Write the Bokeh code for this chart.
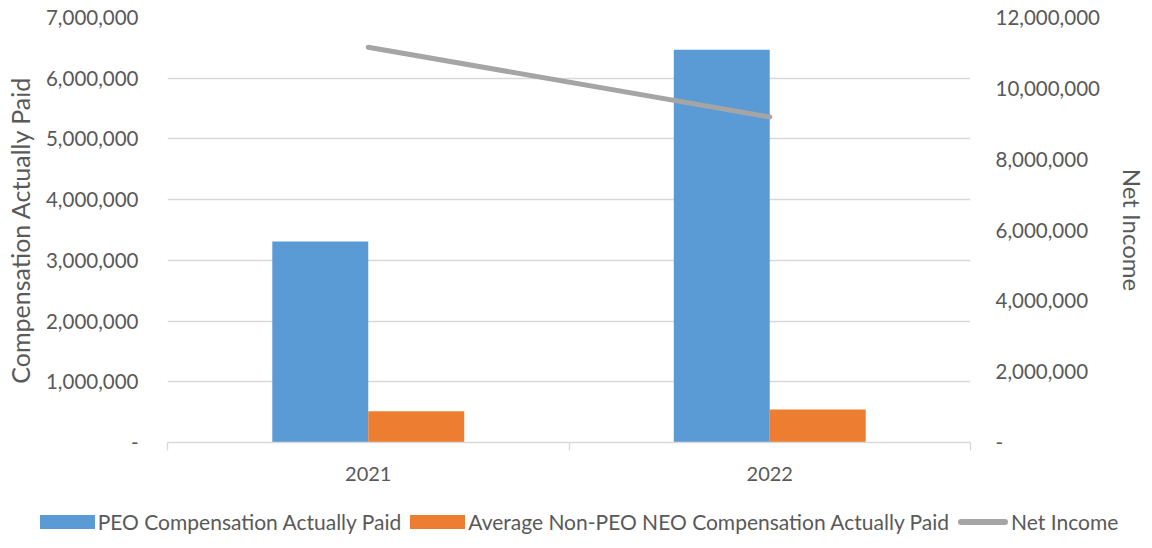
from bokeh.plotting import figure
from bokeh.layouts import column
from bokeh.models import (Range1d, LinearAxis, FixedTicker, NumeralTickFormatter, Div)
from bokeh.embed import file_html
from bokeh.resources import INLINE

years = ["2021", "2022"]
peo_cap = [3310000, 6470000]
neo_cap = [516000, 544000]
net_income = [11160000, 9190000]
left_ticks = [0, 1000000, 2000000, 3000000, 4000000, 5000000, 6000000, 7000000]
right_ticks = [0, 2000000, 4000000, 6000000, 8000000, 10000000, 12000000]
series_names = ["PEO Compensation Actually Paid",
                "Average Non-PEO NEO Compensation Actually Paid",
                "Net Income"]

FONT = "Lato"
TXT = "#595959"
GRID = "#d9d9d9"
C_PEO = "#5b9bd5"
C_NEO = "#ed7d31"
C_NI = "#a5a5a5"

x_center = [i + 0.5 for i in range(len(years))]
bar_w = 0.239
x_peo = [x - bar_w / 2 for x in x_center]
x_neo = [x + bar_w / 2 for x in x_center]

p = figure(frame_width=803, frame_height=425, output_backend="svg", toolbar_location=None,
           x_range=Range1d(0, len(years)), y_range=Range1d(0, left_ticks[-1]),
           min_border_left=167, min_border_right=182, min_border_top=17,
           min_border_bottom=54)
p.outline_line_color = None
p.extra_y_ranges = {"ni": Range1d(0, right_ticks[-1])}

p.vbar(x=x_peo, top=peo_cap, width=bar_w, fill_color=C_PEO, line_color=None)
p.vbar(x=x_neo, top=neo_cap, width=bar_w, fill_color=C_NEO, line_color=None)
p.line(x=x_center, y=net_income, y_range_name="ni", line_color=C_NI,
       line_width=5, line_cap="round")

# grid
p.xgrid.grid_line_color = None
p.ygrid.ticker = FixedTicker(ticks=left_ticks)
p.ygrid.grid_line_color = GRID
p.ygrid.grid_line_width = 1.3
p.ygrid.level = "underlay"

# left axis
ya = p.yaxis[0]
ya.ticker = FixedTicker(ticks=left_ticks)
ya.formatter = NumeralTickFormatter(format="0,0")
ya.major_label_overrides = {0: "-"}
ya.axis_line_color = None
ya.major_tick_line_color = None
ya.minor_tick_line_color = None
ya.major_label_standoff = 23
ya.major_label_text_font = FONT
ya.major_label_text_font_size = "20.5px"
ya.major_label_text_color = TXT
ya.axis_label = "Compensation Actually Paid"
ya.axis_label_text_font = FONT
ya.axis_label_text_font_size = "25px"
ya.axis_label_text_font_style = "normal"
ya.axis_label_text_color = TXT
ya.axis_label_standoff = 8

# right axis
ra = LinearAxis(y_range_name="ni", ticker=FixedTicker(ticks=right_ticks),
                formatter=NumeralTickFormatter(format="0,0"))
ra.major_label_overrides = {0: "-"}
ra.axis_line_color = None
ra.major_tick_line_color = None
ra.minor_tick_line_color = None
ra.major_label_standoff = 19
ra.major_label_text_font = FONT
ra.major_label_text_font_size = "20.5px"
ra.major_label_text_color = TXT
ra.axis_label = "Net Income"
ra.axis_label_text_font = FONT
ra.axis_label_text_font_size = "24px"
ra.axis_label_text_font_style = "normal"
ra.axis_label_text_color = TXT
ra.axis_label_standoff = 15
p.add_layout(ra, "right")

# bottom axis
xa = p.xaxis[0]
xa.ticker = FixedTicker(ticks=x_center, minor_ticks=list(range(len(years) + 1)))
xa.major_label_overrides = {x: y for x, y in zip(x_center, years)}
xa.axis_line_color = GRID
xa.axis_line_width = 1.3
xa.major_tick_line_color = None
xa.major_tick_out = 0
xa.major_tick_in = 0
xa.minor_tick_line_color = GRID
xa.minor_tick_line_width = 1.3
xa.minor_tick_in = 0
xa.minor_tick_out = 8
xa.major_label_standoff = 16
xa.major_label_text_font = FONT
xa.major_label_text_font_size = "20px"
xa.major_label_text_color = TXT

# legend strip as real text
swatch = ("<span style='display:inline-block;width:55px;height:14px;"
          "background:{c};margin:0 3px 0 {ml}px;'></span>")
line_swatch = ("<span style='display:inline-block;width:50px;height:6px;border-radius:3px;"
               "background:{c};margin:0 3px 0 {ml}px;'></span>")
parts = [
    swatch.format(c=C_PEO, ml=0) + "<span>" + series_names[0] + "</span>",
    swatch.format(c=C_NEO, ml=9) + "<span>" + series_names[1] + "</span>",
    line_swatch.format(c=C_NI, ml=9) + "<span>" + series_names[2] + "</span>",
]
html = ("<div style='width:1152px;height:52px;display:flex;align-items:center;"
        "justify-content:center;white-space:nowrap;font-family:Lato;font-size:21px;"
        "color:" + TXT + ";padding-left:6px;box-sizing:border-box;'>" + "".join(parts) + "</div>")
legend_div = Div(text=html, width=1152, height=52, margin=0)

layout = column(p, legend_div, spacing=0)
open("out.html", "w").write(file_html(layout, INLINE))
